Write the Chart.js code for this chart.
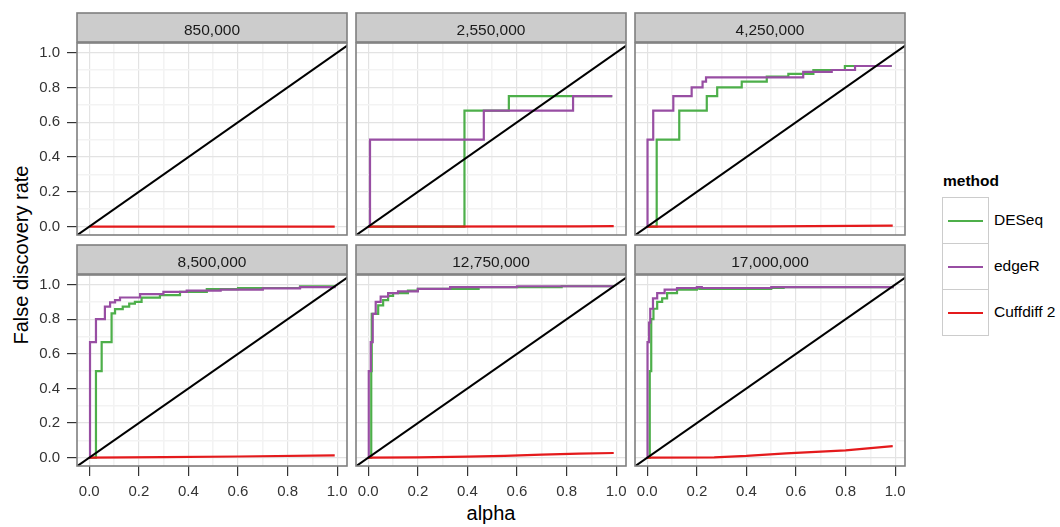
<!DOCTYPE html>
<html>
<head>
<meta charset="utf-8">
<script src="https://cdn.jsdelivr.net/npm/chart.js@4.4.0/dist/chart.umd.min.js"></script>
<style>
  body {
    margin: 0;
    width: 1060px;
    height: 527px;
    position: relative;
    overflow: hidden;
    background: #fff;
    font-family: "Liberation Sans", Arial, sans-serif;
    color: #000;
  }
  .title-y {
    position: absolute;
    left: 21px;
    top: 255px;
    transform: translate(-50%, -50%) rotate(-90deg);
    font-size: 20px;
    white-space: nowrap;
  }
  .title-x {
    position: absolute;
    left: 491px;
    top: 513px;
    transform: translate(-50%, -50%);
    font-size: 20px;
  }
  .legend-title {
    position: absolute;
    left: 943px;
    top: 181px;
    transform: translateY(-50%);
    font-size: 15.5px;
    font-weight: bold;
  }
  .key {
    position: absolute;
    left: 942px;
    width: 47px;
    height: 47px;
    box-sizing: border-box;
    border: 1.5px solid #cccccc;
    background: #fff;
  }
  .key-line {
    position: absolute;
    left: 5px;
    right: 5px;
    top: 21.5px;
    height: 2.5px;
  }
  .key-label {
    position: absolute;
    left: 994px;
    transform: translateY(-50%);
    font-size: 15.5px;
    white-space: nowrap;
  }
</style>
</head>
<body>
<div class="title-y">False discovery rate</div>
<div class="title-x">alpha</div>
<div class="legend-title">method</div>

<script>
const facets = ["850,000", "2,550,000", "4,250,000", "8,500,000", "12,750,000", "17,000,000"];
const methods = ["DESeq", "edgeR", "Cuffdiff 2"];
const gridTicks = [0, 0.1, 0.2, 0.3, 0.4, 0.5, 0.6, 0.7, 0.8, 0.9, 1.0];
const diagonal = [[-0.1, -0.1], [1.1, 1.1]];

// [alpha, false discovery rate] pairs
const deseq850 = [];
const edger850 = [];
const cuffdiff850 = [[0, 0], [0.99, 0]];

const deseq2550 = [[0, 0], [0.388, 0.667], [0.567, 0.75], [0.984, 0.75]];
const edger2550 = [[0, 0], [0.007, 0.5], [0.466, 0.667], [0.826, 0.75], [0.984, 0.75]];
const cuffdiff2550 = [[0, 0], [0.85, 0.001], [0.99, 0.003]];

const deseq4250 = [[0, 0], [0.038, 0.5], [0.129, 0.667], [0.24, 0.75], [0.282, 0.8], [0.381, 0.833],
  [0.482, 0.862], [0.569, 0.878], [0.67, 0.9], [0.797, 0.923], [0.986, 0.923]];
const edger4250 = [[0, 0], [0.001, 0.5], [0.024, 0.667], [0.105, 0.75], [0.179, 0.8], [0.223, 0.833],
  [0.237, 0.857], [0.629, 0.889], [0.744, 0.9], [0.838, 0.923], [0.986, 0.923]];
const cuffdiff4250 = [[0, 0], [0.5, 0.001], [0.99, 0.006]];

const deseq8500 = [[0, 0], [0.027, 0.5], [0.05, 0.667], [0.09, 0.833], [0.104, 0.858], [0.135, 0.872],
  [0.161, 0.89], [0.184, 0.9], [0.211, 0.924], [0.285, 0.939], [0.366, 0.958], [0.474, 0.973],
  [0.6, 0.98], [0.85, 0.99], [0.99, 0.99]];
const edger8500 = [[0, 0], [0.003, 0.667], [0.027, 0.8], [0.063, 0.872], [0.084, 0.897], [0.104, 0.91],
  [0.124, 0.925], [0.205, 0.945], [0.299, 0.958], [0.393, 0.965], [0.53, 0.97], [0.7, 0.978],
  [0.85, 0.985], [0.99, 0.99]];
const cuffdiff8500 = [[0, 0], [0.3, 0.003], [0.6, 0.007], [0.99, 0.013]];

const deseq12750 = [[0, 0], [0.012, 0.5], [0.014, 0.83], [0.04, 0.88], [0.06, 0.91], [0.08, 0.935],
  [0.1, 0.95], [0.16, 0.965], [0.2, 0.975], [0.445, 0.985], [0.78, 0.99], [0.99, 0.99]];
const edger12750 = [[0, 0], [0.002, 0.5], [0.01, 0.667], [0.018, 0.83], [0.03, 0.9], [0.05, 0.93],
  [0.08, 0.95], [0.12, 0.96], [0.2, 0.975], [0.33, 0.985], [0.6, 0.99], [0.99, 0.99]];
const cuffdiff12750 = [[0, 0], [0.2, 0.002], [0.4, 0.006], [0.55, 0.01], [0.7, 0.018], [0.85, 0.024], [0.99, 0.027]];

const deseq17000 = [[0, 0], [0.01, 0.5], [0.016, 0.8], [0.025, 0.86], [0.04, 0.9], [0.06, 0.92],
  [0.08, 0.95], [0.12, 0.97], [0.2, 0.98], [0.21, 0.975], [0.5, 0.98], [0.55, 0.985], [0.99, 0.99]];
const edger17000 = [[0, 0], [0.001, 0.667], [0.007, 0.78], [0.012, 0.86], [0.023, 0.92], [0.04, 0.95],
  [0.07, 0.97], [0.12, 0.98], [0.2, 0.985], [0.22, 0.98], [0.5, 0.985], [0.99, 0.99]];
const cuffdiff17000 = [[0, 0], [0.27, 0.002], [0.4, 0.01], [0.56, 0.025], [0.8, 0.042], [0.99, 0.067]];

const deseqSeries = [deseq850, deseq2550, deseq4250, deseq8500, deseq12750, deseq17000];
const edgerSeries = [edger850, edger2550, edger4250, edger8500, edger12750, edger17000];
const cuffdiffSeries = [cuffdiff850, cuffdiff2550, cuffdiff4250, cuffdiff8500, cuffdiff12750, cuffdiff17000];

const colors = { "DESeq": "#4daf4a", "edgeR": "#984ea3", "Cuffdiff 2": "#e41a1c" };

// canvas placement so every plot area lands on the facet grid
const colBoxes = [
  { left: 17, width: 333, padL: 0, padR: 3, axisW: 60 },
  { left: 353, width: 276, padL: 3, padR: 3, axisW: 0 },
  { left: 632, width: 276, padL: 3, padR: 3, axisW: 0 },
];
const rowBoxes = [
  { top: 10, height: 228, padT: 33, padB: 3, axisH: 0 },
  { top: 242, height: 262, padT: 33, padB: 0, axisH: 38 },
];

Chart.defaults.font.family = '"Liberation Sans", Arial, sans-serif';

const toPoints = (pairs) => pairs.map(([x, y]) => ({ x, y }));
const isMajor = (v) => Math.round(v * 10) % 2 === 0;

// panel border + grey strip with the facet label
const stripPlugin = {
  id: "strip",
  afterDatasetsDraw(chart, args, opts) {
    const { ctx, chartArea: a } = chart;
    const w = a.right - a.left;
    ctx.save();
    ctx.lineWidth = 1.6;
    ctx.strokeStyle = "#7f7f7f";
    ctx.strokeRect(a.left, a.top, w, a.bottom - a.top);
    ctx.fillStyle = "#cccccc";
    ctx.fillRect(a.left, a.top - 30, w, 29);
    ctx.strokeRect(a.left, a.top - 30, w, 29);
    ctx.fillStyle = "#1a1a1a";
    ctx.font = '15.5px "Liberation Sans", Arial, sans-serif';
    ctx.textAlign = "center";
    ctx.textBaseline = "alphabetic";
    ctx.fillText(opts.label, a.left + w / 2, a.top - 8);
    ctx.restore();
  },
};

function gridOptions(showTicks) {
  return {
    color: (c) => (isMajor(c.tick.value) ? "#e3e3e3" : "#f3f3f3"),
    lineWidth: (c) => (isMajor(c.tick.value) ? 1.2 : 1.6),
    tickColor: (c) => (isMajor(c.tick.value) ? "#333333" : "rgba(0,0,0,0)"),
    tickWidth: 1.2,
    tickLength: 10,
    drawTicks: showTicks,
  };
}

function tickOptions(show) {
  return {
    display: show,
    autoSkip: false,
    maxRotation: 0,
    padding: 7,
    color: "#333333",
    font: { size: 15 },
    callback: (v) => (isMajor(v) ? v.toFixed(1) : ""),
  };
}

facets.forEach((label, i) => {
  const col = i % 3;
  const row = Math.floor(i / 3);
  const c = colBoxes[col];
  const r = rowBoxes[row];

  const canvas = document.createElement("canvas");
  canvas.width = c.width;
  canvas.height = r.height;
  canvas.style.cssText = `position:absolute;left:${c.left}px;top:${r.top}px;width:${c.width}px;height:${r.height}px`;
  document.body.appendChild(canvas);

  new Chart(canvas, {
    type: "line",
    data: {
      datasets: [
        { label: "y = x", data: toPoints(diagonal), borderColor: "#000000", borderWidth: 2 },
        { label: "Cuffdiff 2", data: toPoints(cuffdiffSeries[i]), borderColor: colors["Cuffdiff 2"] },
        { label: "edgeR", data: toPoints(edgerSeries[i]), borderColor: colors["edgeR"], stepped: "before" },
        { label: "DESeq", data: toPoints(deseqSeries[i]), borderColor: colors["DESeq"], stepped: "before" },
      ],
    },
    options: {
      responsive: false,
      animation: false,
      events: [],
      layout: { padding: { left: c.padL, right: c.padR, top: r.padT, bottom: r.padB } },
      elements: {
        point: { radius: 0 },
        line: { borderWidth: 2.2, tension: 0, fill: false },
      },
      plugins: {
        legend: { display: false },
        tooltip: { enabled: false },
        strip: { label },
      },
      scales: {
        x: {
          type: "linear",
          min: -0.0495,
          max: 1.0395,
          border: { display: false },
          grid: gridOptions(row === 1),
          ticks: tickOptions(row === 1),
          afterBuildTicks: (s) => { s.ticks = gridTicks.map((v) => ({ value: v })); },
          afterFit: (s) => { s.height = r.axisH; s.paddingLeft = 0; s.paddingRight = 0; },
        },
        y: {
          type: "linear",
          min: -0.048,
          max: 1.055,
          border: { display: false },
          grid: gridOptions(col === 0),
          ticks: tickOptions(col === 0),
          afterBuildTicks: (s) => { s.ticks = gridTicks.map((v) => ({ value: v })); },
          afterFit: (s) => { s.width = c.axisW; s.paddingTop = 0; s.paddingBottom = 0; },
        },
      },
    },
    plugins: [stripPlugin],
  });
});

// legend keys
methods.forEach((m, k) => {
  const top = 197 + k * 46;
  const key = document.createElement("div");
  key.className = "key";
  key.style.top = top + "px";
  const line = document.createElement("div");
  line.className = "key-line";
  line.style.background = colors[m];
  key.appendChild(line);
  document.body.appendChild(key);

  const text = document.createElement("div");
  text.className = "key-label";
  text.style.top = (top + 23) + "px";
  text.textContent = m;
  document.body.appendChild(text);
});
</script>
</body>
</html>
